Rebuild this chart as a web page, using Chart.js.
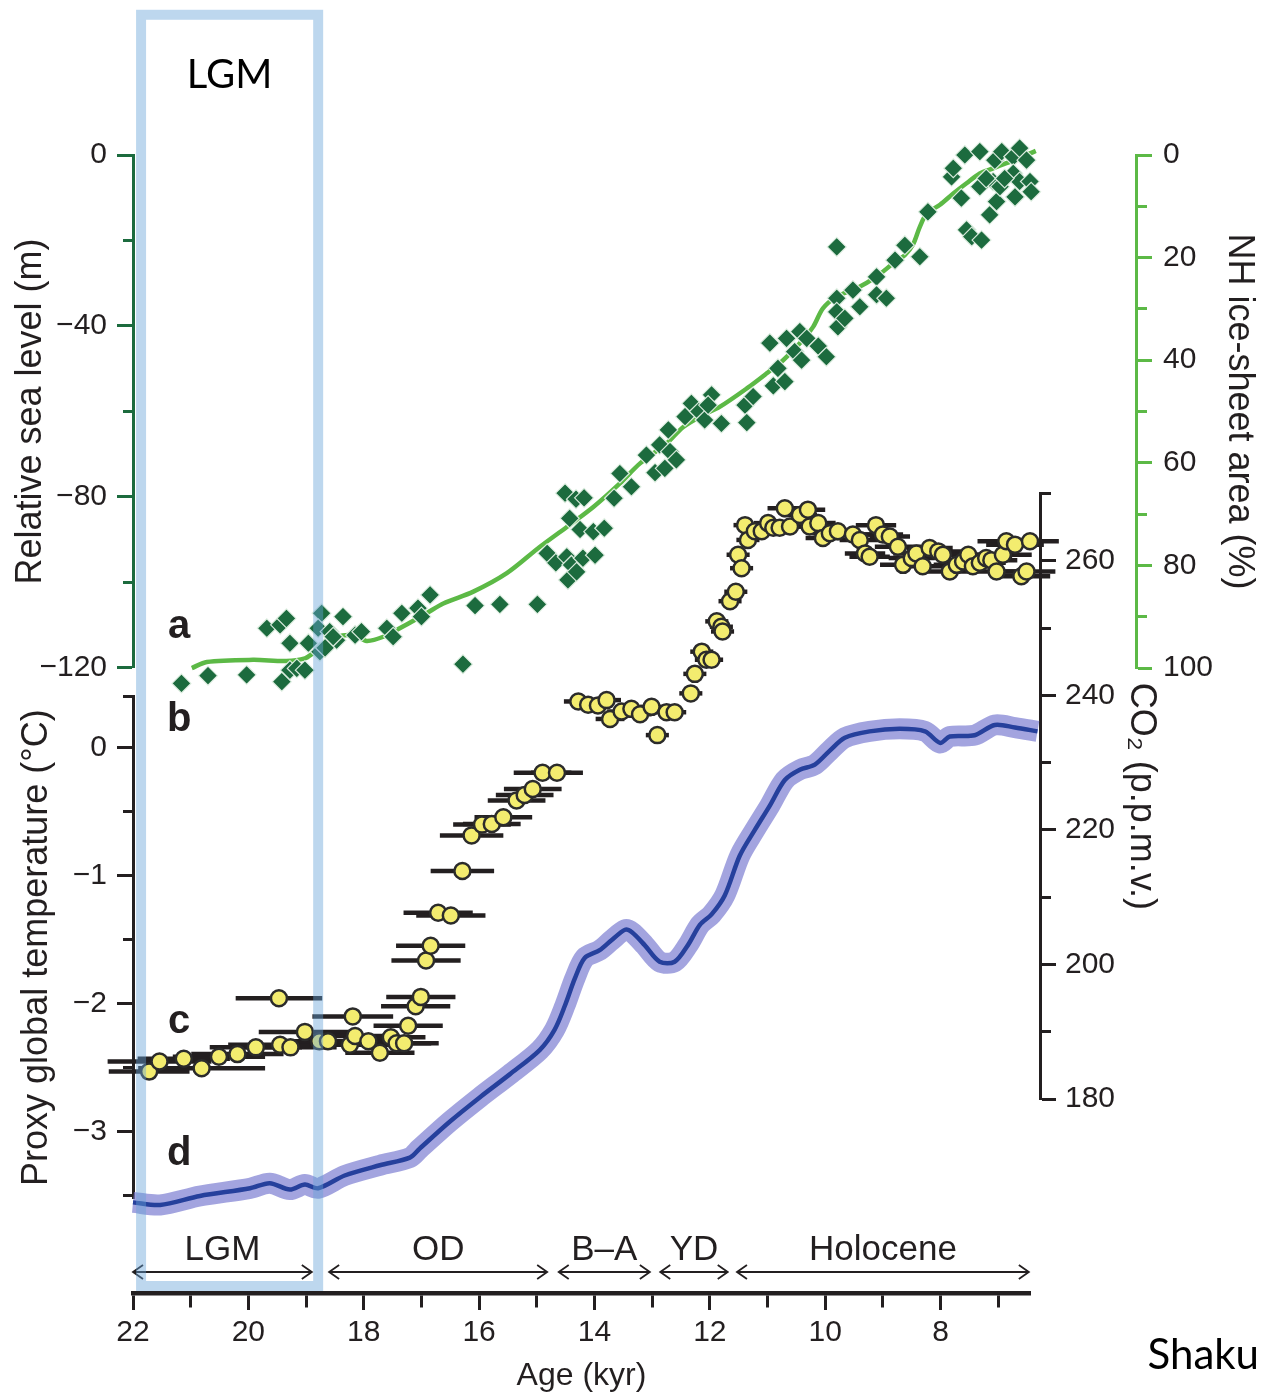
<!DOCTYPE html>
<html>
<head>
<meta charset="utf-8">
<title>Sea level, ice sheets, CO2 and global temperature over the last deglaciation</title>
<script src="https://cdn.jsdelivr.net/npm/chart.js@4.4.1/dist/chart.umd.min.js"></script>
<style>
  html, body { margin: 0; padding: 0; background: #fff; }
  #wrap { width: 1261px; height: 1393px; }
</style>
</head>
<body>
<div id="wrap"><canvas id="chart" width="1261" height="1393"></canvas></div>
<script>
// ---- data ----

// a: relative sea level (m) vs age (kyr)
const seaAge = [
  21.16, 20.70, 20.03, 19.68, 19.45, 19.34, 19.28, 18.96, 19.42, 19.28,
  19.16, 19.02, 18.73, 18.79, 18.76, 18.59, 18.47, 18.36, 18.15, 18.04,
  17.60, 17.49, 17.34, 17.06, 17.00, 16.85, 18.53, 18.67, 16.28, 16.07,
  15.64, 14.99, 14.51, 14.32, 14.18, 14.43, 14.25, 14.02, 13.83, 14.82,
  14.67, 14.48, 14.40, 14.20, 13.99, 14.46, 14.31, 13.56, 13.36, 13.66,
  13.10, 12.87, 12.69, 12.95, 12.78, 12.58, 12.72, 12.43, 12.32, 12.19,
  12.09, 11.97, 12.03, 11.80, 11.39, 11.25, 11.36, 10.90, 10.82, 10.70,
  10.96, 10.67, 10.44, 10.32, 10.53, 10.41, 10.12, 9.98, 9.80, 9.80,
  9.78, 9.66, 9.52, 9.40, 9.11, 9.11, 8.94, 8.79, 8.62, 8.36,
  8.22, 9.80, 7.81, 7.78, 7.58, 7.64, 7.32, 7.32, 7.03, 7.15,
  7.55, 7.46, 7.29, 7.06, 6.94, 6.74, 6.63, 6.40, 6.51, 6.74,
  6.63, 6.45, 6.71, 6.43, 7.09, 6.97, 7.21, 6.89
];
const seaLevel = [
  -123.6, -121.8, -121.6, -110.7, -109.9, -108.4, -114.2, -114.2, -123.2, -120.5,
  -120.1, -120.5, -107.2, -110.7, -116.2, -111.5, -113.5, -108.0, -112.3, -111.5,
  -110.7, -112.7, -107.2, -106.0, -108.0, -102.9, -112.7, -115.3, -119.1, -105.4,
  -105.1, -105.1, -79.1, -80.5, -80.2, -85.0, -87.6, -88.1, -87.3, -93.2,
  -95.4, -94.0, -95.9, -94.3, -93.6, -99.4, -97.5, -74.5, -77.6, -80.3,
  -70.2, -67.8, -69.4, -74.3, -73.3, -71.3, -64.3, -61.2, -58.1, -60.0,
  -62.0, -56.1, -58.5, -62.8, -58.5, -56.5, -62.6, -54.0, -49.9, -53.0,
  -44.0, -42.9, -41.3, -42.9, -46.0, -48.0, -44.7, -47.2, -33.5, -36.7,
  -40.2, -38.2, -31.6, -35.5, -28.5, -32.7, -33.5, -24.6, -21.1, -23.8,
  -13.3, -21.5, -5.1, -3.1, 0.0, -10.1, 0.8, -7.4, -10.9, -14.0,
  -17.5, -19.1, -19.9, -1.2, 0.8, -0.4, 1.6, 3.9, -1.2, -4.3,
  -6.2, -6.2, -9.8, -8.6, -6.2, -7.4, -5.5, -5.5
];

// NH ice-sheet area (%)
const iceAge = [
  20.98, 20.72, 19.92, 19.34, 19.02, 18.88, 18.70, 18.47, 18.18, 17.95,
  17.66, 17.32, 16.91, 16.62, 16.10, 15.52, 14.95, 14.48, 14.02, 13.56,
  13.21, 12.75, 12.46, 12.12, 11.83, 11.36, 11.02, 10.73, 10.44, 10.21,
  10.04, 9.80, 9.46, 9.11, 8.82, 8.62, 8.48, 8.36, 8.24, 8.01,
  7.78, 7.55, 7.32, 7.09, 6.86, 6.63, 6.35
];
const iceArea = [
  100.0, 98.8, 98.4, 98.6, 98.1, 97.1, 95.5, 93.9, 93.6, 94.7,
  93.9, 91.9, 89.3, 87.4, 85.1, 81.5, 76.4, 72.5, 68.6, 64.0,
  60.1, 56.2, 53.0, 50.7, 49.1, 45.5, 42.6, 40.0, 36.7, 33.5,
  29.9, 27.6, 26.0, 23.7, 21.1, 19.5, 17.5, 14.0, 11.4, 9.7,
  7.5, 5.5, 3.6, 2.6, 1.6, 0.6, -0.8
];

// b: atmospheric CO2 (p.p.m.v.) with age uncertainty (kyr)
const co2Age = [
  21.72, 21.54, 21.12, 20.81, 20.51, 20.19, 19.87, 19.47, 19.45, 19.27,
  19.02, 18.77, 18.62, 18.24, 18.19, 18.15, 17.92, 17.72, 17.53, 17.43,
  17.30, 17.23, 17.10, 17.01, 16.92, 16.84, 16.71, 16.49, 16.29, 16.13,
  15.95, 15.78, 15.58, 15.35, 15.21, 15.07, 14.90, 14.65, 14.28, 14.11,
  13.94, 13.79, 13.73, 13.53, 13.36, 13.21, 13.01, 12.91, 12.75, 12.61,
  12.33, 12.26, 12.14, 12.06, 11.97, 11.88, 11.80, 11.78, 11.65, 11.55,
  11.51, 11.45, 11.39, 11.34, 11.22, 11.10, 10.99, 10.90, 10.79, 10.70,
  10.61, 10.44, 10.30, 10.27, 10.12, 10.04, 9.92, 9.78, 9.52, 9.40,
  9.31, 9.23, 9.12, 9.00, 8.88, 8.74, 8.65, 8.50, 8.42, 8.31,
  8.19, 8.04, 7.96, 7.84, 7.72, 7.61, 7.52, 7.44, 7.32, 7.21,
  7.12, 7.03, 6.92, 6.86, 6.71, 6.60, 6.51, 6.45
];
const co2Value = [
  184.1, 185.6, 186.0, 184.6, 186.3, 186.7, 187.7, 195.0, 188.1, 187.7,
  190.0, 188.6, 188.6, 188.1, 192.3, 189.4, 188.6, 186.9, 189.2, 188.3,
  188.3, 190.9, 193.8, 195.2, 200.6, 202.8, 207.7, 207.3, 213.9, 219.2,
  220.8, 220.9, 221.9, 224.4, 225.2, 226.1, 228.5, 228.5, 239.1, 238.6,
  238.5, 239.3, 236.5, 237.6, 238.0, 237.2, 238.3, 234.1, 237.5, 237.5,
  240.3, 243.2, 246.5, 245.3, 245.3, 251.0, 250.2, 249.5, 254.0, 255.4,
  260.9, 258.9, 265.3, 263.1, 264.4, 264.4, 265.6, 264.9, 264.9, 267.8,
  265.1, 266.8, 267.6, 265.1, 265.6, 263.4, 264.1, 264.4, 263.9, 263.1,
  261.1, 260.6, 265.3, 263.9, 263.6, 262.1, 259.4, 260.4, 261.1, 259.2,
  261.9, 261.4, 260.9, 258.4, 259.4, 259.9, 260.9, 259.2, 259.7, 260.4,
  260.1, 258.4, 260.9, 262.9, 262.4, 257.7, 258.4, 262.9
];
const co2AgeErr = [
  0.7, 0.9, 0.8, 1.1, 0.8, 0.8, 0.8, 0.75, 0.9, 0.8,
  0.8, 0.8, 0.7, 0.7, 0.7, 0.7, 0.7, 0.6, 0.6, 0.6,
  0.6, 0.6, 0.6, 0.6, 0.6, 0.6, 0.6, 0.6, 0.55, 0.55,
  0.5, 0.5, 0.5, 0.5, 0.5, 0.5, 0.5, 0.45, 0.25, 0.25,
  0.25, 0.25, 0.25, 0.25, 0.2, 0.2, 0.2, 0.2, 0.2, 0.2,
  0.2, 0.2, 0.2, 0.2, 0.2, 0.2, 0.2, 0.2, 0.2, 0.2,
  0.2, 0.2, 0.2, 0.2, 0.2, 0.25, 0.25, 0.25, 0.3, 0.3,
  0.3, 0.3, 0.3, 0.3, 0.3, 0.3, 0.3, 0.3, 0.35, 0.35,
  0.35, 0.35, 0.35, 0.35, 0.35, 0.4, 0.4, 0.4, 0.4, 0.4,
  0.4, 0.4, 0.4, 0.4, 0.4, 0.4, 0.4, 0.4, 0.45, 0.45,
  0.45, 0.45, 0.5, 0.5, 0.5, 0.5, 0.5, 0.5
];

// proxy global temperature (deg C)
const tempAge = [
  22.00, 21.53, 20.84, 19.97, 19.63, 19.28, 19.02, 18.79, 18.33, 17.72,
  17.20, 17.03, 16.51, 15.99, 15.47, 14.95, 14.69, 14.51, 14.34, 14.17,
  13.91, 13.70, 13.47, 13.35, 13.13, 12.87, 12.61, 12.38, 12.17, 11.97,
  11.74, 11.48, 11.22, 10.96, 10.70, 10.44, 10.18, 9.92, 9.66, 9.23,
  8.71, 8.27, 8.01, 7.84, 7.41, 7.06, 6.71, 6.32
];
const tempValue = [
  -3.55, -3.57, -3.50, -3.44, -3.40, -3.45, -3.41, -3.44, -3.34, -3.26,
  -3.20, -3.13, -2.92, -2.73, -2.55, -2.36, -2.20, -2.01, -1.80, -1.64,
  -1.58, -1.50, -1.42, -1.44, -1.54, -1.67, -1.67, -1.54, -1.38, -1.30,
  -1.15, -0.84, -0.64, -0.45, -0.25, -0.17, -0.13, -0.02, 0.08, 0.13,
  0.15, 0.13, 0.04, 0.09, 0.10, 0.18, 0.16, 0.13
];

// climate periods (kyr)
const periodNames = ['LGM', 'OD', 'B\u2013A', 'YD', 'Holocene'];
const periodFrom = [22.0, 18.6, 14.62, 12.86, 11.53];
const periodTo = [18.9, 14.82, 13.04, 11.69, 6.47];

// tick values
const ageTicks = [22, 21, 20, 19, 18, 17, 16, 15, 14, 13, 12, 11, 10, 9, 8, 7];
const ageLabels = [22, 20, 18, 16, 14, 12, 10, 8];
const seaTicks = [0, -20, -40, -60, -80, -100, -120];
const seaLabels = [0, -40, -80, -120];
const iceTicks = [0, 10, 20, 30, 40, 50, 60, 70, 80, 90, 100];
const iceLabels = [0, 20, 40, 60, 80, 100];
const tempTicks = [0.4, 0, -0.5, -1, -1.5, -2, -2.5, -3, -3.5];
const tempLabels = [0, -1, -2, -3];
const co2Ticks = [270, 260, 250, 240, 230, 220, 210, 200, 190, 180];
const co2Labels = [260, 240, 220, 200, 180];

// ---- styling ----
const INK = '#231f20';
const SEA_GREEN = '#1c6b3e';
const ICE_GREEN = '#5cb946';
const FONT = "'Liberation Sans', Arial, sans-serif";
const CO2_INDEX = 2;

Chart.defaults.font.family = FONT;

function fmt(v) {
  return v < 0 ? '\u2212' + Math.abs(v) : String(v);
}

// one y axis: explicit ticks, only some of them labelled, shorter minor ticks
function yAxis(o) {
  const tl = 16, minor = 9;
  // left axes draw ticks from outer end towards the axis, right axes the other way
  const minorDash = o.position === 'left' ? [0, tl - minor - 1, minor + 1, 100] : [minor, 100];
  return {
    type: 'linear',
    position: o.position,
    min: o.min,
    max: o.max,
    reverse: !!o.reverse,
    bounds: 'data',
    afterBuildTicks: s => { s.ticks = o.ticks.map(v => ({ value: v })); },
    afterFit: s => { s.width = 0; },
    border: { display: true, color: o.color, width: 3 },
    grid: {
      drawOnChartArea: false,
      drawTicks: true,
      tickLength: tl,
      tickWidth: 3,
      tickColor: o.color,
      tickBorderDash: c => (c.tick && !o.labels.includes(c.tick.value)) ? minorDash : []
    },
    ticks: {
      autoSkip: false,
      maxRotation: 0,
      padding: o.pad,
      color: INK,
      font: { size: 30 },
      callback: v => o.labels.includes(v) ? fmt(v) : ''
    },
    title: {
      display: true,
      text: o.title,
      color: INK,
      font: { size: 36 },
      padding: { top: o.titlePad, bottom: 0 }
    }
  };
}

// puts the y axes where the figure has them (shared x on the left, two columns on the right)
const axisPlacer = {
  id: 'axisPlacer',
  afterLayout(chart) {
    const a = chart.chartArea;
    const place = {
      ySea:  { left: 0, right: a.left, span: [0, -120] },
      yTemp: { left: 0, right: a.left, span: [0.4, -3.52] },
      yCO2:  { left: a.right + 10, right: a.right + 133, span: [270, 180] },
      yIce:  { left: a.right + 106, right: chart.width, span: [0, 100] }
    };
    Object.keys(place).forEach(id => {
      const s = chart.scales[id];
      const p = place[id];
      const y1 = s.getPixelForValue(p.span[0]);
      const y2 = s.getPixelForValue(p.span[1]);
      s.left = p.left;
      s.right = p.right;
      s.width = p.right - p.left;
      s.top = Math.min(y1, y2);
      s.bottom = Math.max(y1, y2);
      s.height = s.bottom - s.top;
    });
  }
};

// error bars, period arrows, panel letters and the LGM box
const overlay = {
  id: 'overlay',
  beforeDatasetDraw(chart, args) {
    if (args.index !== CO2_INDEX) return;
    const { ctx } = chart;
    const x = chart.scales.x, y = chart.scales.yCO2;
    ctx.save();
    ctx.strokeStyle = INK;
    ctx.lineWidth = 4.5;
    co2Age.forEach((age, i) => {
      const py = y.getPixelForValue(co2Value[i]);
      ctx.beginPath();
      ctx.moveTo(x.getPixelForValue(age + co2AgeErr[i]), py);
      ctx.lineTo(x.getPixelForValue(age - co2AgeErr[i]), py);
      ctx.stroke();
    });
    ctx.restore();
  },
  afterDraw(chart) {
    const { ctx, chartArea } = chart;
    const x = chart.scales.x;
    const sea = chart.scales.ySea, temp = chart.scales.yTemp;
    ctx.save();

    // panel letters
    ctx.fillStyle = INK;
    ctx.font = 'bold 40px ' + FONT;
    ctx.textAlign = 'center';
    ctx.textBaseline = 'middle';
    const lx = x.getPixelForValue(21.2);
    ctx.fillText('a', lx, sea.getPixelForValue(-110.5));
    ctx.fillText('b', lx, temp.getPixelForValue(0.22));
    ctx.fillText('c', lx, temp.getPixelForValue(-2.14));
    ctx.fillText('d', lx, temp.getPixelForValue(-3.17));

    // period arrows
    const ay = chartArea.bottom - 21;
    ctx.font = '35px ' + FONT;
    ctx.strokeStyle = INK;
    ctx.lineWidth = 1.8;
    periodNames.forEach((name, i) => {
      const x1 = x.getPixelForValue(periodFrom[i]);
      const x2 = x.getPixelForValue(periodTo[i]);
      ctx.beginPath();
      ctx.moveTo(x1, ay); ctx.lineTo(x2, ay);
      ctx.moveTo(x1 + 10, ay - 7); ctx.lineTo(x1, ay); ctx.lineTo(x1 + 10, ay + 7);
      ctx.moveTo(x2 - 10, ay - 7); ctx.lineTo(x2, ay); ctx.lineTo(x2 - 10, ay + 7);
      ctx.stroke();
      ctx.fillText(name, (x1 + x2) / 2, ay - 22);
    });

    // LGM box on top of everything
    const bx1 = x.getPixelForValue(21.86), bx2 = x.getPixelForValue(18.79);
    const by1 = sea.getPixelForValue(32.8), by2 = chartArea.bottom - 7;
    ctx.strokeStyle = 'rgba(101, 162, 215, 0.43)';
    ctx.lineWidth = 10;
    ctx.strokeRect(bx1, by1, bx2 - bx1, by2 - by1);
    ctx.fillStyle = '#000';
    ctx.font = "40px Lato, 'Open Sans', sans-serif";
    ctx.fillText('LGM', (bx1 + bx2) / 2, by1 + 60);

    ctx.font = "42px Lato, 'Open Sans', sans-serif";
    ctx.textAlign = 'right';
    ctx.fillText('Shaku', chart.width - 2, chart.height - 38);
    ctx.restore();
  }
};

const pts = (xs, ys) => xs.map((v, i) => ({ x: v, y: ys[i] }));

new Chart(document.getElementById('chart'), {
  type: 'scatter',
  data: {
    datasets: [
      {
        label: 'Relative sea level',
        data: pts(seaAge, seaLevel),
        yAxisID: 'ySea',
        pointStyle: 'rectRot',
        pointRadius: 9.5,
        backgroundColor: SEA_GREEN,
        borderColor: 'rgba(225, 240, 228, 0.95)',
        borderWidth: 1.2,
        clip: false,
        order: 1
      },
      {
        type: 'line',
        label: 'NH ice-sheet area',
        data: pts(iceAge, iceArea),
        yAxisID: 'yIce',
        borderColor: ICE_GREEN,
        borderWidth: 4.5,
        pointRadius: 0,
        tension: 0.3,
        clip: false,
        order: 3
      },
      {
        label: 'CO2',
        data: pts(co2Age, co2Value),
        yAxisID: 'yCO2',
        pointStyle: 'circle',
        pointRadius: 8,
        backgroundColor: '#f3ec6f',
        borderColor: '#2b2b2b',
        borderWidth: 2.5,
        clip: false,
        order: 0
      },
      {
        type: 'line',
        label: 'Temperature uncertainty',
        data: pts(tempAge, tempValue),
        yAxisID: 'yTemp',
        borderColor: 'rgba(124, 126, 210, 0.7)',
        borderWidth: 21,
        pointRadius: 0,
        tension: 0.3,
        clip: false,
        order: 5
      },
      {
        type: 'line',
        label: 'Proxy global temperature',
        data: pts(tempAge, tempValue),
        yAxisID: 'yTemp',
        borderColor: '#26409c',
        borderWidth: 4.5,
        pointRadius: 0,
        tension: 0.3,
        clip: false,
        order: 4
      }
    ]
  },
  options: {
    responsive: false,
    animation: false,
    events: [],
    layout: { padding: { left: 133, right: 231, top: 155, bottom: 0 } },
    plugins: { legend: { display: false }, tooltip: { enabled: false } },
    scales: {
      x: {
        type: 'linear',
        position: 'bottom',
        min: 6.45,
        max: 22,
        reverse: true,
        bounds: 'data',
        afterBuildTicks: s => { s.ticks = ageTicks.map(v => ({ value: v })); },
        afterFit: s => { s.height = 100; },
        border: { display: true, color: INK, width: 4.5 },
        grid: {
          drawOnChartArea: false,
          drawTicks: true,
          tickLength: 17,
          tickWidth: 3,
          tickColor: INK,
          tickBorderDash: c => (c.tick && !ageLabels.includes(c.tick.value)) ? [12, 100] : []
        },
        ticks: {
          autoSkip: false,
          maxRotation: 0,
          padding: 5,
          color: INK,
          font: { size: 30 },
          callback: v => ageLabels.includes(v) ? String(v) : ''
        },
        title: {
          display: true,
          text: 'Age (kyr)',
          color: INK,
          font: { size: 32 },
          padding: { top: 0, bottom: -2 }
        }
      },
      ySea: yAxis({ position: 'left', min: -266.2, max: 0, ticks: seaTicks, labels: seaLabels,
        color: SEA_GREEN, pad: 10, title: 'Relative sea level (m)', titlePad: 9 }),
      yTemp: yAxis({ position: 'left', min: -4.258, max: 4.633, ticks: tempTicks, labels: tempLabels,
        color: INK, pad: 10, title: 'Proxy global temperature (\u00b0C)', titlePad: 15 }),
      yCO2: yAxis({ position: 'right', min: 151.2, max: 320.3, ticks: co2Ticks, labels: co2Labels,
        color: INK, pad: 9, title: 'CO\u2082 (p.p.m.v.)', titlePad: 0 }),
      yIce: yAxis({ position: 'right', min: 0, max: 221.8, reverse: true, ticks: iceTicks, labels: iceLabels,
        color: ICE_GREEN, pad: 11, title: 'NH ice-sheet area (%)', titlePad: 0 })
    }
  },
  plugins: [axisPlacer, overlay]
});
</script>
</body>
</html>
